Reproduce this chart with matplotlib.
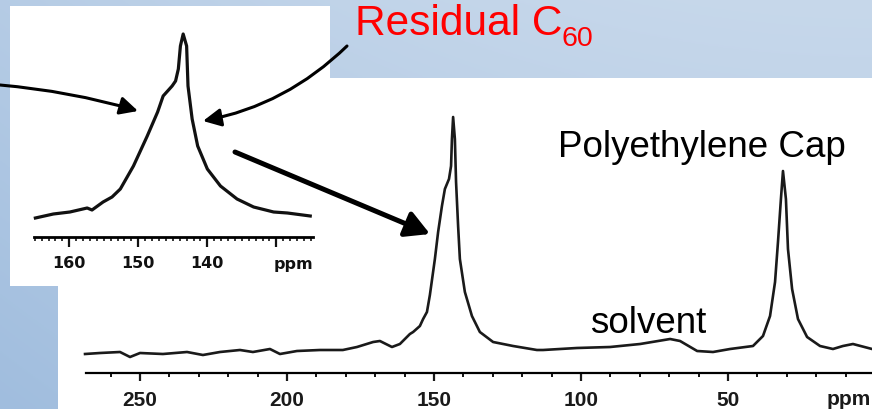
import numpy as np
import matplotlib.pyplot as plt
from matplotlib.patches import Rectangle
from matplotlib.transforms import blended_transform_factory

plt.rcParams['font.family'] = ['Liberation Sans', 'DejaVu Sans']

# full 13C spectrum (ppm, intensity a.u.)
main_ppm = [268.7, 263.6, 256.8, 253.4, 250.0, 242.2, 234.0, 228.6, 222.8, 216.0,
            211.6, 205.8, 202.4, 196.6, 188.8, 181.0, 176.2, 170.7, 168.4, 164.3,
            161.6, 158.2, 157.1, 154.8, 153.7, 152.4, 151.4, 149.7, 148.6, 147.3,
            146.3, 144.9, 144.2, 143.9, 143.5, 142.9, 142.5, 141.8, 141.2, 139.5,
            137.1, 134.4, 129.9, 123.1, 115.0, 112.9, 101.4, 90.1, 79.9, 69.7,
            66.3, 60.5, 55.1, 49.3, 41.5, 38.1, 35.7, 34.0, 33.0, 32.0,
            31.3, 30.3, 29.6, 28.2, 26.2, 23.1, 18.7, 14.3, 10.9, 7.5, 1.0]
main_int = [19, 20, 21, 16, 20, 19, 21, 18, 21, 23,
            21, 24, 19, 22, 23, 23, 26, 31, 32, 26,
            29, 39, 41, 47, 54, 61, 78, 114, 141, 167,
            184, 194, 207, 234, 256, 234, 191, 147, 114, 81,
            57, 41, 31, 27, 23, 23, 25, 26, 29, 34,
            32, 22, 21, 24, 27, 37, 57, 91, 131, 174,
            202, 174, 124, 84, 54, 36, 27, 24, 27, 29, 24]
main_ticks = [250, 200, 150, 100, 50]

# zoomed aromatic region
inset_ppm = [164.9, 162.3, 159.9, 157.4, 156.7, 155.1, 153.8, 152.6, 150.7, 148.7,
             147.2, 146.4, 145.1, 144.6, 144.2, 143.9, 143.5, 143.0, 142.8, 142.2,
             141.4, 140.0, 138.1, 135.7, 133.3, 130.4, 128.4, 125.1]
inset_int = [19, 23, 25, 29, 27, 35, 40, 48, 71, 101,
             125, 141, 151, 156, 168, 191, 203, 191, 151, 118,
             91, 68, 51, 38, 30, 25, 24, 21]
inset_ticks = [160, 150, 140, 130]
inset_labels = ['160', '150', '140', '']

W, H = 872, 410


def px_box(x0, y0, x1, y1):
    return [x0 / W, 1 - y1 / H, (x1 - x0) / W, (y1 - y0) / H]


fig = plt.figure(figsize=(W / 100, H / 100), dpi=100)

# slide background
bg = fig.add_axes([0, 0, 1, 1])
yy, xx = np.mgrid[0:1:200j, 0:1:400j]
t = np.clip(0.55 * yy + 0.45 * (1 - xx) ** 2, 0, 1)[..., None]
light = np.array([199, 216, 235]) / 255
dark = np.array([160, 189, 222]) / 255
bg.imshow(light * (1 - t) + dark * t, extent=[0, W, H, 0], aspect='auto')
bg.add_patch(Rectangle((58, 79), W - 58, H - 79, color='white', lw=0))
bg.add_patch(Rectangle((10, 7), 320, 280, color='white', lw=0))
bg.set_xlim(0, W)
bg.set_ylim(H, 0)
bg.axis('off')

# main spectrum
ax = fig.add_axes(px_box(86, 114, 872, 374))
ax.plot(main_ppm, main_int, color='#1a1a1a', lw=1.9, clip_on=False)
ax.set_xlim(268.37, 1.02)
ax.set_ylim(0, 260)
ax.patch.set_alpha(0)
for s in ['top', 'left', 'right']:
    ax.spines[s].set_visible(False)
ax.spines['bottom'].set_linewidth(1.6)
ax.set_yticks([])
ax.set_xticks(main_ticks)
ax.set_xticks(np.arange(10, 270, 10), minor=True)
ax.tick_params(axis='x', which='major', length=6, width=1.6, pad=6,
               labelsize=15, colors='#1a1a1a')
ax.tick_params(axis='x', which='minor', length=3, width=1.3)
for lab in ax.get_xticklabels():
    lab.set_fontweight('bold')
ax.text(9, -0.1, 'ppm', transform=blended_transform_factory(ax.transData, ax.transAxes),
        ha='center', va='center', fontsize=15, fontweight='bold', color='#1a1a1a')

# inset
ins = fig.add_axes(px_box(34, 28, 313, 238))
ins.plot(inset_ppm, inset_int, color='#111111', lw=2.3, clip_on=False)
ins.set_xlim(165.1, 124.7)
ins.set_ylim(0, 210)
ins.patch.set_alpha(0)
for s in ['top', 'left', 'right']:
    ins.spines[s].set_visible(False)
ins.spines['bottom'].set_linewidth(2.0)
ins.set_yticks([])
ins.set_xticks(inset_ticks)
ins.set_xticklabels(inset_labels, family='DejaVu Sans', fontweight='bold', fontsize=11.5)
ins.set_xticks(np.arange(125, 166, 1), minor=True)
ins.tick_params(axis='x', which='major', length=7, width=1.6, pad=6, colors='#111111')
ins.tick_params(axis='x', which='minor', length=3, width=1.1)
ins.text(127.6, -0.124, 'ppm', transform=blended_transform_factory(ins.transData, ins.transAxes),
         ha='center', va='center', fontsize=11.5, fontweight='bold', family='DejaVu Sans',
         color='#111111')

# annotations, arrows
ov = fig.add_axes([0, 0, 1, 1])
ov.set_xlim(0, W)
ov.set_ylim(H, 0)
ov.axis('off')

ov.text(355, 35, 'Residual C', color='red', fontsize=30.5, ha='left', va='baseline')
ov.text(561, 46, '60', color='red', fontsize=20.5, ha='left', va='baseline')
ov.text(558, 157, 'Polyethylene Cap', color='black', fontsize=26.5, ha='left', va='baseline')
ov.text(590, 333, 'solvent', color='black', fontsize=26.5, ha='left', va='baseline')

thin = dict(arrowstyle='-|>,head_length=0.4,head_width=0.2', lw=2.2, color='black',
            mutation_scale=27, shrinkA=0, shrinkB=0)
ov.annotate('', xy=(138, 112), xytext=(0, 86),
            arrowprops=dict(thin, connectionstyle='arc3,rad=-0.05'))
ov.annotate('', xy=(203, 122), xytext=(347, 47),
            arrowprops=dict(thin, connectionstyle='arc3,rad=-0.15'))
ov.annotate('', xy=(430, 235), xytext=(235, 153),
            arrowprops=dict(arrowstyle='-|>,head_length=0.4,head_width=0.22', lw=3.6,
                            color='black', mutation_scale=36, shrinkA=0, shrinkB=0))

fig.savefig('out.png', dpi=100)
